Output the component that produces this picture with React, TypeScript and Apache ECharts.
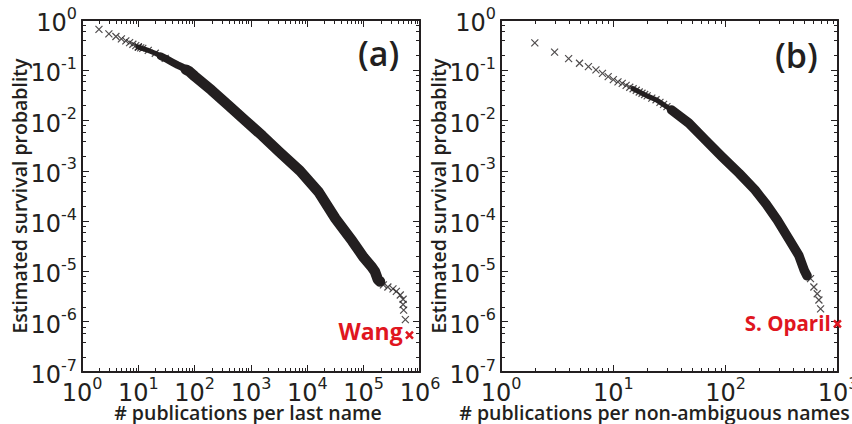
import React, { useEffect, useRef } from 'react';
import * as echarts from 'echarts';

const INK = '#231f20';
const RED = '#e0161f';
const SANS = 'Open Sans';

// ---------- Panel (a): publications per last name ----------
const A_SPARSE_X = [2, 3, 4, 5, 6, 7, 8, 9, 10, 11, 12];
const A_SPARSE_Y = [0.65, 0.53, 0.47, 0.42, 0.385, 0.355, 0.33, 0.31, 0.29, 0.28, 0.273];
const A_BAND1_X = [10, 15, 20, 30];
const A_BAND1_Y = [0.29, 0.248, 0.218, 0.173];
const A_BAND2_X = [25, 30, 40, 50, 60, 80];
const A_BAND2_Y = [0.19, 0.173, 0.145, 0.127, 0.115, 0.095];
const A_BAND3_X = [70, 80, 100, 200, 398, 794, 1585, 3162, 7413, 15849, 31623, 63096, 100000, 141254, 158489, 177828, 194984];
const A_BAND3_Y = [0.103, 0.095, 0.076, 0.04, 0.02, 0.01, 0.005, 0.0024, 0.001, 3.8e-4, 1.12e-4, 4e-5, 1.9e-5, 1.2e-5, 1e-5, 7e-6, 6.3e-6];
const A_TAIL_X = [223872, 269153, 331131, 380189, 446684, 501187, 501187, 512861, 549541];
const A_TAIL_Y = [5.4e-6, 4.9e-6, 4.5e-6, 4.0e-6, 3.4e-6, 2.8e-6, 2.2e-6, 1.7e-6, 1.1e-6];
const A_MARK_NAME = 'Wang';
const A_MARK_X = 650000;
const A_MARK_Y = 5.4e-7;

// ---------- Panel (b): publications per non-ambiguous name ----------
const B_SPARSE_X = [2, 3, 4, 5, 6, 7, 8, 9, 10, 11, 12, 13, 14, 15, 16, 17, 18, 19, 20, 22, 24, 26, 28, 30];
const B_SPARSE_Y = [0.35, 0.23, 0.17, 0.138, 0.118, 0.102, 0.087, 0.075, 0.065, 0.059, 0.055, 0.05, 0.046, 0.043, 0.04, 0.037, 0.035, 0.033, 0.031, 0.028, 0.026, 0.023, 0.021, 0.019];
const B_BAND1_X = [15, 20, 24, 33, 40];
const B_BAND1_Y = [0.043, 0.031, 0.026, 0.0162, 0.0122];
const B_BAND2_X = [33, 47, 66, 93, 132, 182, 229, 288, 363, 447, 501, 530];
const B_BAND2_Y = [0.0162, 0.0089, 0.0041, 0.0019, 8.9e-4, 4.2e-4, 2.2e-4, 1.05e-4, 4.5e-5, 2.1e-5, 1.05e-5, 8.2e-6];
const B_TAIL_X = [569, 610, 653, 676, 700];
const B_TAIL_Y = [7.2e-6, 4.9e-6, 3.6e-6, 2.7e-6, 1.8e-6];
const B_MARK_NAME = 'S. Oparil';
const B_MARK_X = 988;
const B_MARK_Y = 9.1e-7;

// ---------- Axes ----------
const Y_MIN = 1e-7;
const Y_MAX = 1;
const A_X_MAX = 1e6;
const B_X_MAX = 1e3;
const X_MINOR_SUBS = [2, 3, 4, 5, 6, 7, 8, 9];
const Y_MINOR_SUBS = [2, 4, 6, 8];
const A_X_NAME = '# publications per last name';
const B_X_NAME = '# publications per non-ambiguous names';
const Y_NAME = 'Estimated survival probablity';

const zip = (xs: number[], ys: number[]) => xs.map((x, i) => [x, ys[i]]);

const minorValues = (lo: number, hi: number, subs: number[]) => {
  const out: number[] = [];
  for (let e = Math.round(Math.log10(lo)); e < Math.round(Math.log10(hi)); e++) {
    for (const s of subs) out.push(s * Math.pow(10, e));
  }
  return out;
};

const CROSS = 'path://M0,0L7,7M0,7L7,0';

const tickLabel = (v: number) => {
  const e = Math.round(Math.log10(v));
  return `{b|10}{s|${e}}`;
};
const richLabel = {
  b: { fontFamily: 'DejaVu Sans', fontSize: 24, lineHeight: 30, verticalAlign: 'bottom', color: INK },
  s: { fontFamily: 'DejaVu Sans', fontSize: 16, lineHeight: 30, verticalAlign: 'top', color: INK },
};

const nameStyle = { fontFamily: SANS, fontSize: 19.5, fontWeight: 600, color: INK };

function xAxes(grid: number, max: number, name: string, shift: number) {
  const common = {
    type: 'log', logBase: 10, min: 1, max, gridIndex: grid,
    axisLine: { show: true, lineStyle: { color: INK, width: 2 } },
    axisTick: { show: true, inside: true, length: 7, lineStyle: { color: INK, width: 1 } },
    splitLine: { show: false },
    minorTick: { show: false },
  };
  return [
    {
      ...common, position: 'bottom',
      name, nameLocation: 'middle', nameGap: 30, nameMoveOverlap: false,
      nameTextStyle: { ...nameStyle, padding: [0, shift * 2, 0, 0] },
      axisLabel: { show: true, margin: 3, formatter: tickLabel, rich: richLabel, showMinLabel: true, showMaxLabel: true },
    },
    { ...common, position: 'top', axisLabel: { show: false } },
  ];
}

function yAxes(grid: number) {
  const common = {
    type: 'log', logBase: 10, min: Y_MIN, max: Y_MAX, gridIndex: grid,
    axisLine: { show: true, lineStyle: { color: INK, width: 2 } },
    axisTick: { show: true, inside: true, length: 7, lineStyle: { color: INK, width: 1 } },
    splitLine: { show: false },
    minorTick: { show: false },
  };
  return [
    {
      ...common, position: 'left',
      name: Y_NAME, nameLocation: 'middle', nameGap: 53, nameRotate: 90, nameMoveOverlap: false,
      nameTextStyle: nameStyle,
      axisLabel: { show: true, margin: 5, formatter: tickLabel, rich: richLabel, showMinLabel: true, showMaxLabel: true },
    },
    { ...common, position: 'right', axisLabel: { show: false } },
  ];
}

function minorTickSeries(axisIdx: number, which: 'x' | 'y', values: number[]) {
  return {
    type: 'custom',
    xAxisIndex: axisIdx,
    yAxisIndex: axisIdx,
    silent: true,
    clip: false,
    z: 5,
    data: values.map((v) => (which === 'x' ? [v, 1] : [1, v])),
    renderItem: (params: any, api: any) => {
      const cs = params.coordSys;
      const st = { stroke: INK, lineWidth: 1 };
      if (which === 'x') {
        const px = Math.round(api.coord([api.value(0), 1])[0]) + 0.5;
        const b = cs.y + cs.height;
        return {
          type: 'group',
          children: [
            { type: 'line', shape: { x1: px, y1: b, x2: px, y2: b - 4 }, style: st },
            { type: 'line', shape: { x1: px, y1: cs.y, x2: px, y2: cs.y + 4 }, style: st },
          ],
        };
      }
      const py = Math.round(api.coord([1, api.value(1)])[1]) + 0.5;
      const r = cs.x + cs.width;
      return {
        type: 'group',
        children: [
          { type: 'line', shape: { x1: cs.x, y1: py, x2: cs.x + 4, y2: py }, style: st },
          { type: 'line', shape: { x1: r, y1: py, x2: r - 4, y2: py }, style: st },
        ],
      };
    },
  };
}

function crosses(axisIdx: number, data: number[][]) {
  return {
    type: 'scatter',
    xAxisIndex: axisIdx,
    yAxisIndex: axisIdx,
    silent: true,
    z: 4,
    symbol: CROSS,
    symbolSize: 7,
    itemStyle: { color: 'transparent', borderColor: INK, borderWidth: 1.2 },
    data,
  };
}

function band(axisIdx: number, data: number[][], width: number) {
  return {
    type: 'line',
    xAxisIndex: axisIdx,
    yAxisIndex: axisIdx,
    silent: true,
    z: 3,
    showSymbol: false,
    symbol: 'none',
    lineStyle: { color: INK, width, cap: 'round', join: 'round' },
    data,
  };
}

function highlight(axisIdx: number, name: string, x: number, y: number, size: number, offset: number[]) {
  return {
    type: 'scatter',
    xAxisIndex: axisIdx,
    yAxisIndex: axisIdx,
    silent: true,
    z: 6,
    symbol: CROSS,
    symbolSize: 7,
    itemStyle: { color: 'transparent', borderColor: RED, borderWidth: 2.5, opacity: 1 },
    label: {
      show: true, position: 'left', distance: 2, offset,
      formatter: name, color: RED, fontFamily: SANS, fontSize: size, fontWeight: 700,
      textBorderWidth: 0, opacity: 1,
    },
    data: [[x, y]],
  };
}

export default function App() {
  const ref = useRef<HTMLDivElement>(null);
  useEffect(() => {
    if (!ref.current) return;
    const chart = echarts.init(ref.current, undefined, { renderer: 'svg' });
    chart.setOption({
      animation: false,
      backgroundColor: '#ffffff',
      grid: [
        { left: 82, top: 20, width: 338, height: 352, containLabel: false, outerBoundsMode: 'none' },
        { left: 501, top: 20, width: 337, height: 352, containLabel: false, outerBoundsMode: 'none' },
      ],
      xAxis: [...xAxes(0, A_X_MAX, A_X_NAME, 3), ...xAxes(1, B_X_MAX, B_X_NAME, 15)],
      yAxis: [...yAxes(0), ...yAxes(1)],
      graphic: [
        { type: 'text', left: 358, top: 36, style: { text: '(a)', font: `600 34px "${SANS}"`, fill: INK } },
        { type: 'text', left: 775, top: 38, style: { text: '(b)', font: `600 34px "${SANS}"`, fill: INK } },
      ],
      series: [
        minorTickSeries(0, 'x', minorValues(1, A_X_MAX, X_MINOR_SUBS)),
        minorTickSeries(0, 'y', minorValues(Y_MIN, Y_MAX, Y_MINOR_SUBS)),
        minorTickSeries(2, 'x', minorValues(1, B_X_MAX, X_MINOR_SUBS)),
        minorTickSeries(2, 'y', minorValues(Y_MIN, Y_MAX, Y_MINOR_SUBS)),
        band(0, zip(A_BAND1_X, A_BAND1_Y), 5),
        band(0, zip(A_BAND2_X, A_BAND2_Y), 7.5),
        band(0, zip(A_BAND3_X, A_BAND3_Y), 10.5),
        crosses(0, zip(A_SPARSE_X, A_SPARSE_Y)),
        crosses(0, zip(A_BAND1_X, A_BAND1_Y)),
        crosses(0, zip(A_TAIL_X, A_TAIL_Y)),
        highlight(0, A_MARK_NAME, A_MARK_X, A_MARK_Y, 23, [0, -4]),
        band(2, zip(B_BAND1_X, B_BAND1_Y), 5),
        band(2, zip(B_BAND2_X, B_BAND2_Y), 9.5),
        crosses(2, zip(B_SPARSE_X, B_SPARSE_Y)),
        crosses(2, zip(B_TAIL_X, B_TAIL_Y)),
        highlight(2, B_MARK_NAME, B_MARK_X, B_MARK_Y, 20.5, [0, -1]),
      ],
    });
    return () => chart.dispose();
  }, []);
  return (
    <div
      ref={ref}
      style={{ position: 'fixed', left: 0, top: 0, width: 852, height: 424, background: '#fff' }}
    />
  );
}
